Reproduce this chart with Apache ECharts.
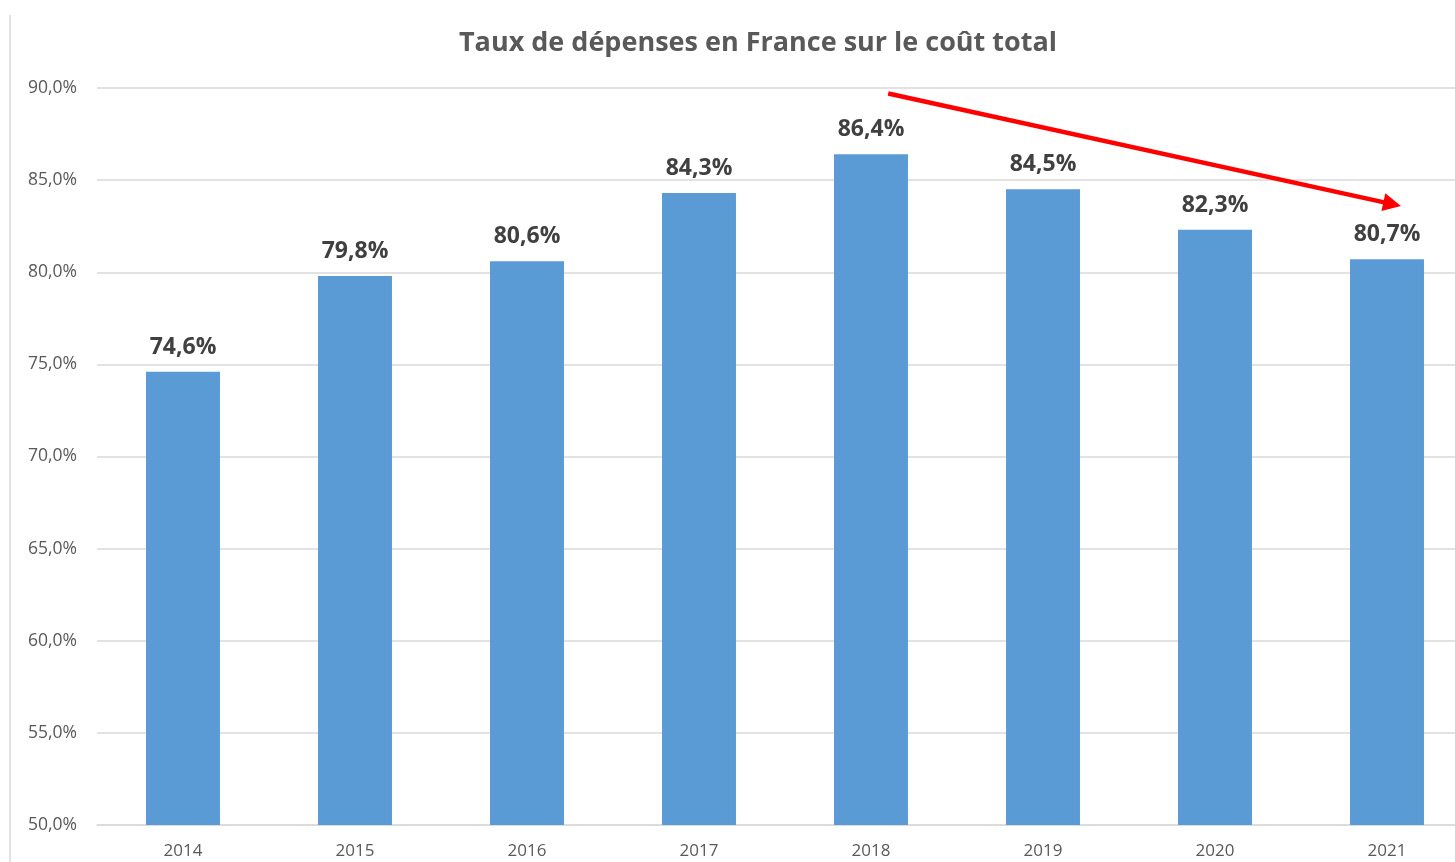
<!DOCTYPE html>
<html>
<head>
<meta charset="utf-8">
<script src="https://cdn.jsdelivr.net/npm/echarts@6/dist/echarts.min.js"></script>
<style>
  html, body { margin: 0; padding: 0; background: #fff; overflow: hidden; }
  #main { width: 1480px; height: 862px; }
</style>
</head>
<body>
<div id="main"></div>
<script>
// données
var years = ['2014', '2015', '2016', '2017', '2018', '2019', '2020', '2021'];
var taux = [74.6, 79.8, 80.6, 84.3, 86.4, 84.5, 82.3, 80.7];
// flèche de tendance (x = position de catégorie, y = valeur en %)
var arrowStart = [4.1, 89.7];
var arrowEnd = [7.03, 83.7];

function pct(v) {
    return v.toFixed(1).replace('.', ',') + '%';
}

var font = '"Open Sans", "Noto Sans", sans-serif';

var myChart = echarts.init(document.getElementById('main'));
var option = {
    backgroundColor: '#fff',
    animation: false,
    title: {
        text: 'Taux de dépenses en France sur le coût total',
        left: 753,
        textAlign: 'center',
        top: 25,
        textStyle: { fontFamily: font, fontSize: 27, fontWeight: 'bold', color: '#595959' }
    },
    grid: { left: 97, top: 88, width: 1376, height: 737 },
    xAxis: [
        {
            type: 'category',
            data: years,
            axisTick: { show: false },
            axisLine: { lineStyle: { color: '#d9d9d9', width: 1.5 } },
            axisLabel: { fontFamily: font, fontSize: 17, color: '#595959', margin: 18 }
        },
        {
            type: 'value',
            min: -0.5,
            max: 7.5,
            show: false
        }
    ],
    yAxis: {
        type: 'value',
        min: 50,
        max: 90,
        interval: 5,
        axisLine: { show: false },
        axisTick: { show: false },
        splitLine: { lineStyle: { color: '#d9d9d9', width: 1.5 } },
        axisLabel: {
            fontFamily: font, fontSize: 17.5, color: '#595959', margin: 20,
            formatter: function (v) { return pct(v); }
        }
    },
    graphic: [
        {
            type: 'line',
            shape: { x1: 10, y1: 15, x2: 10, y2: 862 },
            style: { stroke: '#d9d9d9', lineWidth: 1.5 }
        }
    ],
    series: [
        {
            type: 'bar',
            data: taux,
            barWidth: '43%',
            itemStyle: { color: '#5b9bd5' },
            label: {
                show: true,
                position: 'top',
                distance: 13,
                fontFamily: font,
                fontSize: 23,
                fontWeight: 'bold',
                color: '#404040',
                formatter: function (p) { return pct(p.value); }
            }
        },
        {
            type: 'line',
            xAxisIndex: 1,
            data: [],
            silent: true,
            markLine: {
                silent: true,
                symbol: ['none', 'triangle'],
                symbolSize: [18, 18],
                label: { show: false },
                lineStyle: { color: '#ff0000', width: 4.5, type: 'solid' },
                data: [[{ coord: arrowStart }, { coord: arrowEnd }]]
            }
        }
    ]
};
myChart.setOption(option);
</script>
</body>
</html>
